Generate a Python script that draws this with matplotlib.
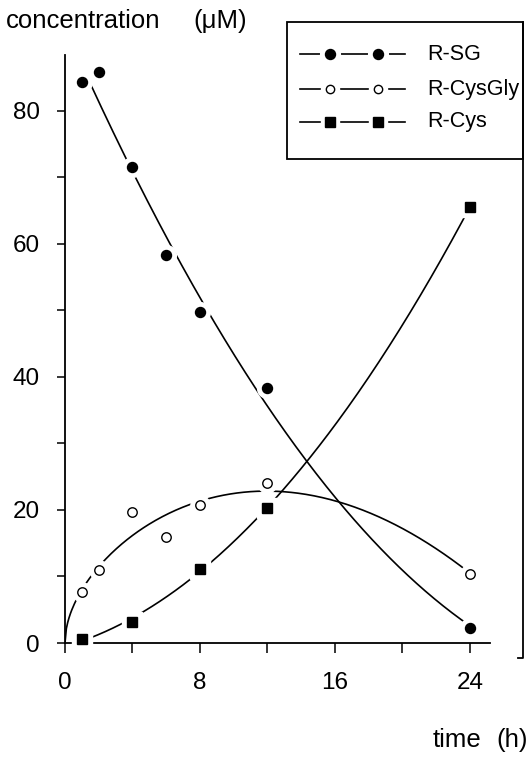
import numpy as np
import matplotlib.pyplot as plt
from matplotlib.patches import Rectangle

plt.rcParams['font.family'] = ['Liberation Sans', 'DejaVu Sans']

# measured concentrations (uM) against time (h)
t_sg = [1, 2, 4, 6, 8, 12, 24]
sg = [84.3, 85.8, 71.6, 58.4, 49.7, 38.3, 2.3]
t_gly = [1, 2, 4, 6, 8, 12, 24]
gly = [7.7, 11.0, 19.7, 16.0, 20.8, 24.0, 10.4]
t_cys = [1, 4, 8, 12, 24]
cys = [0.6, 3.1, 11.2, 20.3, 65.5]

names = ['R-SG', 'R-CysGly', 'R-Cys']

x_ticks = [0, 4, 8, 12, 16, 20, 24]
x_labels = ['0', '', '8', '', '16', '', '24']
y_ticks = [0, 10, 20, 30, 40, 50, 60, 70, 80]
y_labels = ['0', '', '20', '', '40', '', '60', '', '80']


def quad_fit(t, y, t0, t1):
    p = np.polyfit(t, y, 2)
    tt = np.linspace(t0, t1, 300)
    return tt, np.polyval(p, tt)


def sqrt_fit(t, y, t0, t1):
    # y = a*sqrt(t) + b*t + c*t^2, passes through the origin
    t = np.asarray(t, float)
    A = np.column_stack([np.sqrt(t), t, t ** 2])
    a, b, c = np.linalg.lstsq(A, np.asarray(y, float), rcond=None)[0]
    tt = np.linspace(t0, t1, 300)
    return tt, a * np.sqrt(tt) + b * tt + c * tt ** 2


def draw_series(ax, t, y, fit, marker, face, ms):
    ax.plot(*fit, color='k', lw=1.2, zorder=2)
    # white halo so the curve breaks around each point
    ax.plot(t, y, ls='none', marker=marker, ms=ms + 7, mfc='white',
            mec='white', zorder=3, clip_on=False)
    ax.plot(t, y, ls='none', marker=marker, ms=ms, mfc=face, mec='k',
            mew=1.0, zorder=4, clip_on=False)


fig = plt.figure(figsize=(5.3, 7.69), dpi=100)
ax = fig.add_axes([65 / 530, 126 / 769, 425 / 530, 588 / 769])

draw_series(ax, t_sg, sg, quad_fit(t_sg, sg, 1.5, 24), 'o', 'k', 7.2)
draw_series(ax, t_gly, gly, sqrt_fit(t_gly, gly, 0, 24), 'o', 'white', 6.8)
draw_series(ax, t_cys, cys, quad_fit(t_cys, cys, 1, 24), 's', 'k', 7.0)

ax.set_xlim(0, 25.2)
ax.set_ylim(0, 88.4)
ax.set_xticks(x_ticks)
ax.set_xticklabels(x_labels)
ax.set_yticks(y_ticks)
ax.set_yticklabels(y_labels)
for s in ['top', 'right']:
    ax.spines[s].set_visible(False)
for s in ['left', 'bottom']:
    ax.spines[s].set_linewidth(1.3)
ax.tick_params(axis='x', direction='out', length=7, width=1.1, pad=14,
               labelsize=17.5)
ax.tick_params(axis='y', direction='out', length=6, width=1.1, pad=12,
               labelsize=17.5)

# overlay in pixel units for the labels and the key
ov = fig.add_axes([0, 0, 1, 1], facecolor='none')
ov.set_xlim(0, 530)
ov.set_ylim(769, 0)
ov.axis('off')

ov.text(6, 28, 'concentration', fontsize=18.5, va='baseline')
ov.text(193, 28, '(\u03bcM)', fontsize=18.5, va='baseline')
ov.text(433, 747, 'time', fontsize=18.5, va='baseline')
ov.text(528, 747, '(h)', fontsize=18.5, va='baseline', ha='right')

ov.add_patch(Rectangle((287, 22), 236, 137, fill=False, ec='k', lw=1.3))
ov.plot([523, 523, 518], [22, 658, 658], color='k', lw=1.3)

key = [('o', 'k', 7.2, 54), ('o', 'white', 6.0, 89), ('s', 'k', 6.6, 122)]
for (marker, face, ms, yk), name in zip(key, names):
    ov.plot([300, 405], [yk, yk], color='k', lw=1.2, zorder=2)
    ov.plot([330, 378], [yk, yk], ls='none', marker=marker, ms=ms + 7,
            mfc='white', mec='white', zorder=3)
    ov.plot([330, 378], [yk, yk], ls='none', marker=marker, ms=ms,
            mfc=face, mec='k', mew=1.0, zorder=4)
    ov.text(427, yk, name, fontsize=15.5, va='center')

fig.savefig('out.png', dpi=100)
